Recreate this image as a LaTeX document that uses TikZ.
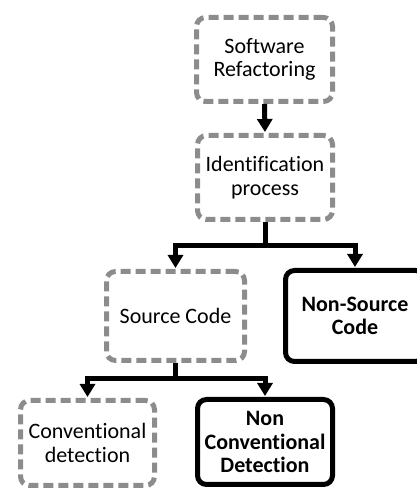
\documentclass[tikz,border=0pt]{standalone}
\usepackage{fontspec}
\setmainfont[Ligatures=NoCommon]{Carlito}
\usetikzlibrary{arrows.meta}
\definecolor{dashgray}{HTML}{8C8C8C}
\begin{document}
\begin{tikzpicture}[x=1pt,y=1pt,
  font=\fontsize{22}{23.5}\selectfont,
  dbox/.style={draw=dashgray, line width=5pt, dash pattern=on 10pt off 5pt,
    rounded corners=9pt, align=center, inner sep=0pt},
  sbox/.style={draw=black, line width=5pt, rounded corners=9pt, align=center,
    inner sep=0pt, font=\fontsize{22}{23.5}\selectfont\bfseries},
  arr/.style={line width=5pt, -{Triangle[width=15pt,length=13pt]}, shorten >=1pt},
  ln/.style={line width=5pt}]
\useasboundingbox (0,0) rectangle (417,490);
\node[dbox, minimum width=136pt, minimum height=84pt] (sr) at (264.5,430.5) {Software\\Refactoring};
\node[dbox, minimum width=135pt, minimum height=84pt] (ip) at (265,312.5) {Identification\\process};
\node[dbox, minimum width=138pt, minimum height=89pt] (sc) at (175.5,174) {Source Code};
\node[sbox, minimum width=139pt, minimum height=91pt] (nsc) at (355,174) {Non-Source\\Code};
\node[dbox, minimum width=134pt, minimum height=85pt] (cd) at (87.5,47) {Conventional\\detection};
\node[sbox, minimum width=135pt, minimum height=85pt] (ncd) at (265,48) {Non\\Conventional\\Detection};
\coordinate (j1) at (265,244);
\coordinate (j2) at (175.5,111);
\draw[arr] (sr.south) -- (ip.north);
\draw[ln] (ip.south) -- (j1);
\draw[arr] (j1) -| (sc.north);
\draw[arr] (j1) -| (nsc.north);
\draw[ln] (sc.south) -- (j2);
\draw[arr] (j2) -| (cd.north);
\draw[arr] (j2) -| (ncd.north);
\end{tikzpicture}
\end{document}
